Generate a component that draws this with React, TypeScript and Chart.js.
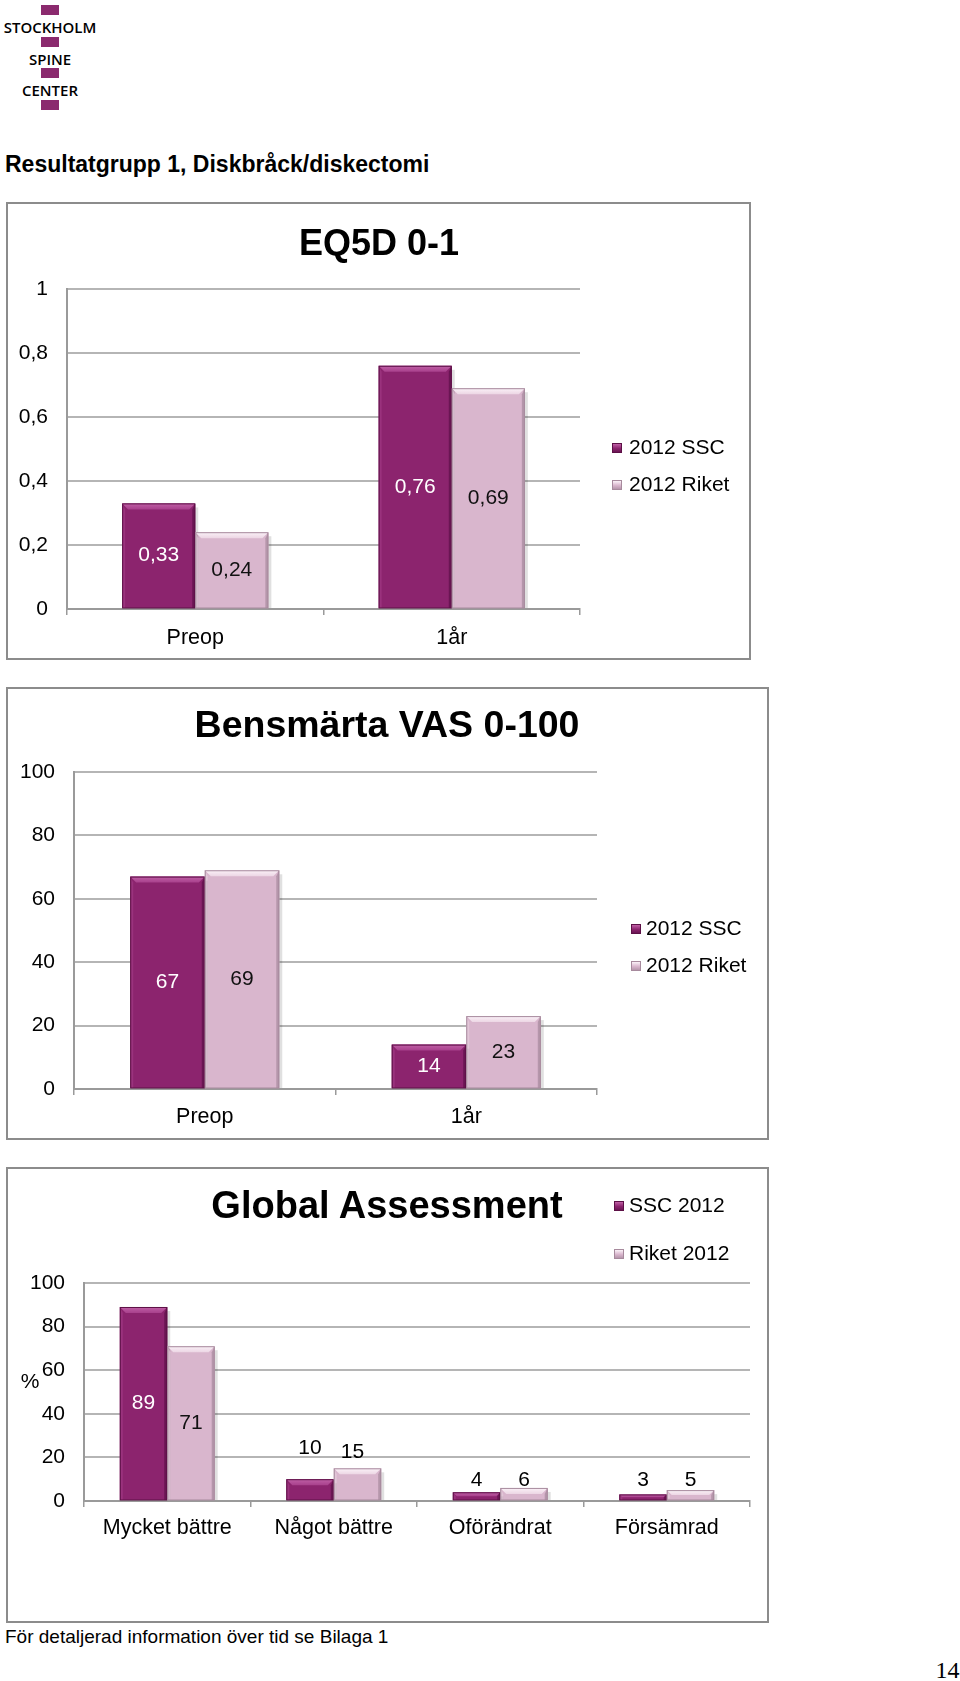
import React, { useEffect, useRef } from "react";
import { Chart, registerables } from "chart.js";

Chart.register(...registerables);

// ---------- DATA ----------
const eqCategories = ["Preop", "1år"];
const eqSSC = [0.33, 0.76];
const eqRiket = [0.24, 0.69];
const eqLegend = ["2012 SSC", "2012 Riket"];

const vasCategories = ["Preop", "1år"];
const vasSSC = [67, 14];
const vasRiket = [69, 23];
const vasLegend = ["2012 SSC", "2012 Riket"];

const gaCategories = ["Mycket bättre", "Något bättre", "Oförändrat", "Försämrad"];
const gaSSC = [89, 10, 4, 3];
const gaRiket = [71, 15, 6, 5];
const gaLegend = ["SSC 2012", "Riket 2012"];

const pageTitle = "Resultatgrupp 1, Diskbråck/diskectomi";
const footerText = "För detaljerad information över tid se Bilaga 1";
const pageNumber = "14";
const logoWords = ["STOCKHOLM", "SPINE", "CENTER"];

// ---------- STYLE ----------
const SANS = "'Liberation Sans', Arial, Helvetica, sans-serif";
const SERIF = "'Liberation Serif', 'Times New Roman', serif";
const SSC_STYLE = { fill: "#8c246e", hi: "#c060a6", light: "#a8408c", dark: "#6a1553", edge: "#5c1046", label: "#ffffff" };
const RIKET_STYLE = { fill: "#d9b6cd", hi: "#fbf2f8", light: "#ecd6e4", dark: "#b596ab", edge: "#a78a9d", label: "#111111" };
const LOGO_COLOR = "#8b2a6e";
const GRID_COLOR = "#b5b5b5";
const AXIS_COLOR = "#9a9a9a";
const BOX_BORDER = "#8c8c8c";

Chart.defaults.font.family = SANS;

const bevelPlugin = {
  id: "bevel",
  afterDatasetsDraw(chart: any) {
    const ctx = chart.ctx;
    chart.data.datasets.forEach((ds: any, di: number) => {
      const st = ds.bevel;
      if (!st) return;
      const meta = chart.getDatasetMeta(di);
      meta.data.forEach((bar: any) => {
        const p = bar.getProps(["x", "y", "base", "width"], true);
        const l = p.x - p.width / 2;
        const r = p.x + p.width / 2;
        const t = p.y;
        const b = p.base;
        const h = b - t;
        const bv = Math.min(6, h / 2);
        ctx.save();
        ctx.fillStyle = "rgba(0,0,0,0.12)";
        ctx.fillRect(r, t + 4, 3, h - 4);
        const g = ctx.createLinearGradient(0, t, 0, t + bv);
        g.addColorStop(0, st.hi);
        g.addColorStop(1, st.light);
        ctx.fillStyle = g;
        ctx.beginPath();
        ctx.moveTo(l, t);
        ctx.lineTo(r, t);
        ctx.lineTo(r - bv, t + bv);
        ctx.lineTo(l + bv, t + bv);
        ctx.closePath();
        ctx.fill();
        ctx.fillStyle = st.dark;
        ctx.beginPath();
        ctx.moveTo(r, t);
        ctx.lineTo(r, b);
        ctx.lineTo(r - 3, b);
        ctx.lineTo(r - 3, t + bv);
        ctx.closePath();
        ctx.fill();
        ctx.fillStyle = st.light;
        ctx.globalAlpha = 0.5;
        ctx.beginPath();
        ctx.moveTo(l, t);
        ctx.lineTo(l + 3, t + bv);
        ctx.lineTo(l + 3, b);
        ctx.lineTo(l, b);
        ctx.closePath();
        ctx.fill();
        ctx.globalAlpha = 1;
        ctx.strokeStyle = st.edge;
        ctx.lineWidth = 1;
        ctx.strokeRect(l + 0.5, t + 0.5, p.width - 1, h - 0.5);
        ctx.restore();
      });
    });
  },
};

const valueLabelPlugin = {
  id: "valueLabels",
  afterDatasetsDraw(chart: any) {
    const ctx = chart.ctx;
    chart.data.datasets.forEach((ds: any, di: number) => {
      const cfg = ds.valueLabel;
      if (!cfg) return;
      const meta = chart.getDatasetMeta(di);
      meta.data.forEach((bar: any, i: number) => {
        const p = bar.getProps(["x", "y", "base"], true);
        const pos = cfg.pos ? cfg.pos[i] : "center";
        const inside = pos === "center";
        const ty = inside ? (p.y + p.base) / 2 : p.y - pos;
        const tx = p.x + (cfg.dx ? cfg.dx[i] : 0);
        ctx.save();
        ctx.fillStyle = inside ? cfg.color : "#000000";
        ctx.font = `21px ${SANS}`;
        ctx.textAlign = "center";
        ctx.textBaseline = "middle";
        ctx.fillText(cfg.format(ds.data[i]), tx, ty);
        ctx.restore();
      });
    });
  },
};

type Rect = { left: number; top: number; width: number; height: number };
type Plot = { left: number; right: number; top: number; bottom: number };

function BarBox(props: {
  box: Rect;
  plot: Plot;
  categories: string[];
  ssc: number[];
  riket: number[];
  legend: string[];
  yMax: number;
  yStep: number;
  tickFmt: (v: number) => string;
  valueFmt: (v: number) => string;
  sscPos?: (number | "center")[];
  riketPos?: (number | "center")[];
  riketDx?: number[];
  xPad: number;
}) {
  const ref = useRef<HTMLCanvasElement | null>(null);
  const { box, plot } = props;
  const innerLeft = box.left + 2;
  const innerTop = box.top + 2;
  const cw = box.width - 4;
  const ch = box.height - 4;
  const padTop = plot.top - innerTop;
  const padRight = innerLeft + cw - plot.right;
  const yWidth = plot.left - innerLeft;
  const xHeight = innerTop + ch - plot.bottom;

  useEffect(() => {
    if (!ref.current) return;
    const chart = new Chart(ref.current, {
      type: "bar",
      data: {
        labels: props.categories,
        datasets: [
          {
            label: props.legend[0],
            data: props.ssc,
            backgroundColor: SSC_STYLE.fill,
            borderWidth: 0,
            barPercentage: 1,
            categoryPercentage: 0.57,
            bevel: SSC_STYLE,
            valueLabel: { color: SSC_STYLE.label, format: props.valueFmt, pos: props.sscPos },
          } as any,
          {
            label: props.legend[1],
            data: props.riket,
            backgroundColor: RIKET_STYLE.fill,
            borderWidth: 0,
            barPercentage: 1,
            categoryPercentage: 0.57,
            bevel: RIKET_STYLE,
            valueLabel: { color: RIKET_STYLE.label, format: props.valueFmt, pos: props.riketPos, dx: props.riketDx },
          } as any,
        ],
      },
      options: {
        animation: false,
        responsive: false,
        devicePixelRatio: 1,
        layout: { padding: { top: padTop, right: padRight, left: 0, bottom: 0 } },
        plugins: { legend: { display: false }, title: { display: false }, tooltip: { enabled: false } },
        scales: {
          x: {
            grid: { display: true, drawOnChartArea: false, drawTicks: true, tickLength: 6, color: AXIS_COLOR, lineWidth: 1.5, offset: true },
            border: { display: true, color: AXIS_COLOR, width: 2 },
            ticks: { color: "#000", font: { size: 21.5 }, padding: props.xPad, maxRotation: 0, autoSkip: false },
            afterFit: (s: any) => {
              s.height = xHeight;
            },
          },
          y: {
            min: 0,
            max: props.yMax,
            grid: { color: GRID_COLOR, lineWidth: 2, drawTicks: false },
            border: { display: true, color: AXIS_COLOR, width: 2 },
            ticks: { stepSize: props.yStep, padding: 19, color: "#000", font: { size: 21 }, callback: (v: any) => props.tickFmt(Number(v)) },
            afterFit: (s: any) => {
              s.width = yWidth;
            },
          },
        },
      } as any,
      plugins: [bevelPlugin, valueLabelPlugin],
    });
    return () => chart.destroy();
  }, []);

  return (
    <div
      style={{
        position: "absolute",
        left: box.left,
        top: box.top,
        width: box.width,
        height: box.height,
        border: `2px solid ${BOX_BORDER}`,
        boxSizing: "border-box",
        background: "#fff",
      }}
    >
      <canvas ref={ref} width={cw} height={ch} style={{ display: "block", width: cw, height: ch }} />
    </div>
  );
}

function T(props: { x: number; y: number; size: number; weight?: number; align?: string; family?: string; color?: string; children: any }) {
  const align = props.align || "center";
  const tx = align === "center" ? "-50%" : align === "right" ? "-100%" : "0";
  return (
    <div
      style={{
        position: "absolute",
        left: props.x,
        top: props.y,
        transform: `translate(${tx}, -50%)`,
        fontSize: props.size,
        fontWeight: props.weight || 400,
        fontFamily: props.family || SANS,
        lineHeight: 1,
        whiteSpace: "nowrap",
        color: props.color || "#000",
      }}
    >
      {props.children}
    </div>
  );
}

function Marker(props: { x: number; y: number; st: any }) {
  return (
    <div
      style={{
        position: "absolute",
        left: props.x,
        top: props.y - 4,
        width: 10,
        height: 10,
        boxSizing: "border-box",
        border: `1px solid ${props.st.edge}`,
        background: `linear-gradient(180deg, ${props.st.hi} 0%, ${props.st.fill} 55%, ${props.st.dark} 100%)`,
      }}
    />
  );
}

function Legend(props: { mx: number; tx: number; ys: number[]; labels: string[] }) {
  return (
    <>
      <Marker x={props.mx} y={props.ys[0] + 1} st={SSC_STYLE} />
      <T x={props.tx} y={props.ys[0]} size={21} align="left">{props.labels[0]}</T>
      <Marker x={props.mx} y={props.ys[1] + 1} st={RIKET_STYLE} />
      <T x={props.tx} y={props.ys[1]} size={21} align="left">{props.labels[1]}</T>
    </>
  );
}

const commaFmt1 = (v: number) => String(Math.round(v * 10) / 10).replace(".", ",");
const commaFmt2 = (v: number) => v.toFixed(2).replace(".", ",");
const intFmt = (v: number) => String(Math.round(v));

export default function App() {
  const logoRects = [5, 37, 68, 100];
  const logoTextY = [26.5, 58.5, 90];
  return (
    <div style={{ position: "absolute", left: 0, top: 0, width: 960, height: 1681, background: "#fff", overflow: "hidden" }}>
      {logoRects.map((y, i) => (
        <div key={i} style={{ position: "absolute", left: 41, top: y, width: 18, height: 10, background: LOGO_COLOR }} />
      ))}
      {logoWords.map((w, i) => (
        <T key={w} x={50} y={logoTextY[i]} size={15} weight={600} family="'Open Sans', sans-serif">{w}</T>
      ))}
      <T x={5} y={163.5} size={23} weight={700} align="left">{pageTitle}</T>

      <BarBox
        box={{ left: 6, top: 202, width: 745, height: 458 }}
        plot={{ left: 67, right: 580, top: 289, bottom: 609 }}
        categories={eqCategories}
        ssc={eqSSC}
        riket={eqRiket}
        legend={eqLegend}
        yMax={1}
        yStep={0.2}
        tickFmt={commaFmt1}
        valueFmt={commaFmt2}
        xPad={10}
      />
      <T x={379} y={243} size={36} weight={700}>EQ5D 0-1</T>
      <Legend mx={612} tx={629} ys={[446, 482.5]} labels={eqLegend} />

      <BarBox
        box={{ left: 6, top: 687, width: 763, height: 453 }}
        plot={{ left: 74, right: 597, top: 772, bottom: 1089 }}
        categories={vasCategories}
        ssc={vasSSC}
        riket={vasRiket}
        legend={vasLegend}
        yMax={100}
        yStep={20}
        tickFmt={intFmt}
        valueFmt={intFmt}
        xPad={9}
      />
      <T x={387} y={725} size={37.5} weight={700}>Bensmärta VAS 0-100</T>
      <Legend mx={631} tx={646} ys={[927, 964]} labels={vasLegend} />

      <BarBox
        box={{ left: 6, top: 1167, width: 763, height: 456 }}
        plot={{ left: 84, right: 750, top: 1283, bottom: 1501 }}
        categories={gaCategories}
        ssc={gaSSC}
        riket={gaRiket}
        legend={gaLegend}
        yMax={100}
        yStep={20}
        tickFmt={intFmt}
        valueFmt={intFmt}
        sscPos={["center", 31, 12, 14]}
        riketPos={["center", 16, 8, 10]}
        riketDx={[0, -5, 0, 0]}
        xPad={8}
      />
      <T x={387} y={1205} size={38} weight={700}>Global Assessment</T>
      <Legend mx={614} tx={629} ys={[1204, 1252]} labels={gaLegend} />
      <T x={30} y={1380} size={21}>%</T>

      <T x={5} y={1635.5} size={19} align="left">{footerText}</T>
      <T x={947.5} y={1669.5} size={24} family={SERIF}>{pageNumber}</T>
    </div>
  );
}
